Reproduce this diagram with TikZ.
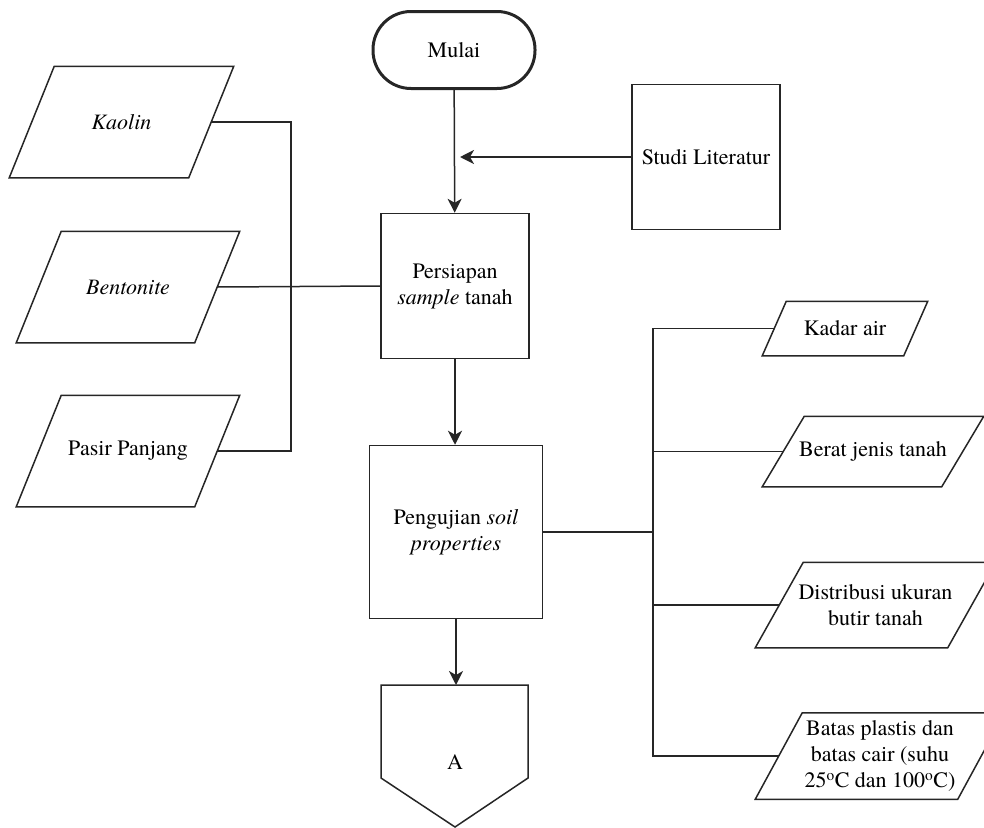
\documentclass[tikz,border=0pt]{standalone}
\usepackage{fontspec}
\setmainfont{TeX Gyre Termes}
\usetikzlibrary{arrows.meta,positioning}

% jajaran genjang di sekitar node bernama #1, #2 = setengah geser
\newcommand{\jajar}[2]{%
  \draw ([xshift=-#2]#1.south west) -- ([xshift=#2]#1.north west)
     -- ([xshift=#2]#1.north east) -- ([xshift=-#2]#1.south east) -- cycle;}

\begin{document}
\begin{tikzpicture}[x=1pt,y=-1pt,>={Stealth[length=14pt,width=14pt,inset=4pt]},
                    line width=1.5pt,draw=black!85,
                    font=\fontsize{22}{26}\selectfont]
  \tikzstyle{terminal}=[rectangle, rounded corners=38pt, draw, line width=3pt,
    minimum width=162, minimum height=77]
  \tikzstyle{proses}=[rectangle, draw, align=center,
    minimum width=148, minimum height=145]
  \tikzstyle{data}=[rectangle, align=center, inner sep=0pt, minimum height=110]

  \useasboundingbox (0,0) rectangle (984,827);

  % alur utama
  \node[terminal] (mulai) at (454,50) {Mulai};
  \node[proses] (persiapan) at (455,286) {Persiapan\\\textit{sample} tanah};
  \node[proses] (studi) at (706,157) {Studi Literatur};
  \node[proses, minimum width=173, minimum height=173] (pengujian)
    at (456,532) {Pengujian \textit{soil}\\\textit{properties}};

  % bahan
  \node[data, minimum width=178] (kaolin) at (121.5,122) {\textit{Kaolin}};
  \node[data, minimum width=177] (bentonite) at (128,287) {\textit{Bentonite}};
  \node[data, minimum width=177] (pasir) at (128,451) {Pasir Panjang};
  \jajar{kaolin}{22.5pt}
  \jajar{bentonite}{22.5pt}
  \jajar{pasir}{22.5pt}

  % pengujian
  \node[data, minimum width=140, minimum height=53] (kadar)
    at (845,328.5) {Kadar air};
  \node[data, minimum width=178, minimum height=69] (berat)
    at (873,451.5) {Berat jenis tanah};
  \node[data, minimum width=191, minimum height=84] (distribusi)
    at (875.5,605) {Distribusi ukuran\\butir tanah};
  \node[data, minimum width=201, minimum height=85] (batas)
    at (880,756) {Batas plastis dan\\batas cair (suhu\\25\textsuperscript{o}C dan 100\textsuperscript{o}C)};
  \jajar{kadar}{12pt}
  \jajar{berat}{21pt}
  \jajar{distribusi}{24pt}
  \jajar{batas}{23.5pt}

  % konektor
  \coordinate (Aatas) at (455,685);
  \draw (381,685) -- (381,778) -- (455,827) -- (528,778) -- (528,685) -- cycle;
  \node (A) at (455,762) {A};

  \draw[->] (mulai) -- (persiapan);
  \draw[->] (studi.west) -- ([xshift=6pt]mulai.south |- studi.west);
  \draw[->] (persiapan.south) -- (persiapan.south |- pengujian.north);
  \draw[->] (pengujian.south) -- (pengujian.south |- Aatas);

  \coordinate (simpul) at (291,287);
  \draw (kaolin.east) -| (simpul) |- (pasir.east);
  \draw (bentonite.east) -- (persiapan.west);

  \coordinate (cabang) at (653,532);
  \draw (pengujian.east) -- (cabang);
  \draw (kadar.west) -- (kadar.west -| cabang) -- (batas.west -| cabang) -- (batas.west);
  \draw (berat.west) -- (berat.west -| cabang);
  \draw (distribusi.west) -- (distribusi.west -| cabang);
\end{tikzpicture}
\end{document}
